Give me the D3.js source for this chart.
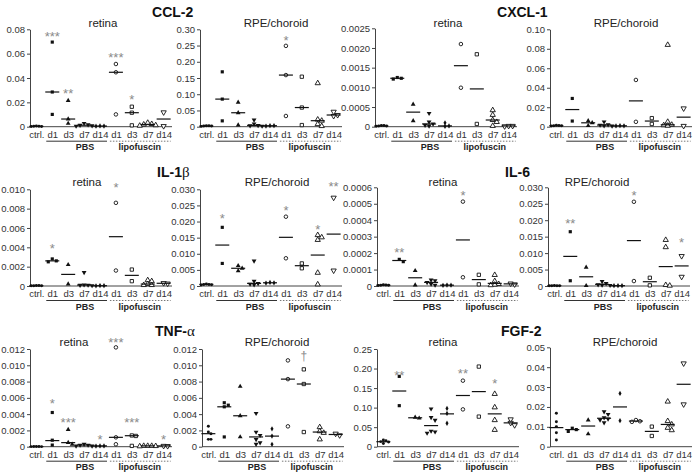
<!DOCTYPE html>
<html><head><meta charset="utf-8">
<script src="https://cdn.jsdelivr.net/npm/d3@7"></script>
<style>
body{margin:0;background:#fff;}
svg{display:block;font-family:"Liberation Sans",Arial,sans-serif;}
</style></head><body>
<svg id="chart" width="695" height="475"></svg>
<script>
// ---------- categories / labels ----------
const categories = ["ctrl.","d1","d3","d7","d14","d1","d3","d7","d14"];
const groupNames = ["PBS","lipofuscin"];
const cytokines = ["CCL-2","CXCL-1","IL-1β","IL-6","TNF-α","FGF-2"];
const tissues = ["retina","RPE/choroid"];
const markerKinds = ["ctrl","square","triangle","triangleDown","diamond","openCircle","openSquare","openTriangle","openTriangleDown"];

// ---------- CCL-2 ----------
const ccl2RetinaPoints = [[0.0004,0.0002,0.0003,0.0005,0.0002],[0.0695,0.0285,0.0101],[0.0214,0.0063,0.0027],[0.0028,0.0016,0.0012,0.0008,0.0005],[0.0006,0.0004,0.0005],[0.0515,0.0447,0.0101],[0.0164,0.0115,0.0011],[0.0032,0.0022,0.0018,0.0012,0.0008],[0.0118,0.0005]];
const ccl2RetinaMedians = [0.0003,0.0285,0.0063,0.0012,0.0005,0.0447,0.0115,0.0018,0.0063];
const ccl2RetinaTicks = [0,0.02,0.04,0.06,0.08];
const ccl2RetinaSig = ["","***","**","","","***","*","",""];
const ccl2RetinaSigAt = [null,0.0767,0.0296,null,null,0.0595,0.0247,null,null];

const ccl2RpePoints = [[0.003,0.002,0.001,0.002,0.003],[0.169,0.085,0.018],[0.075,0.043,0.005],[0.021,0.009,0.004,0.003,0.002],[0.003,0.002,0.003],[0.249,0.159,0.033],[0.154,0.059,0.005],[0.134,0.022,0.0185,0.008,0.002],[0.046,0.036,0.033]];
const ccl2RpeMedians = [0.002,0.085,0.043,0.004,0.003,0.159,0.059,0.0185,0.036];
const ccl2RpeTicks = [0,0.05,0.10,0.15,0.20,0.25,0.30];
const ccl2RpeSig = ["","","","","","*","","",""];
const ccl2RpeSigAt = [null,null,null,null,null,0.275,null,null,null];

// ---------- CXCL-1 ----------
const cxcl1RetinaPoints = [[0.00003,0.00002,0.00001,0.00002,0.00003],[0.00125,0.00123,0.00121],[0.00057,0.00015],[0.00034,0.00012,0.00007,0.00004,0.00002],[0.0001,0.00002,0.00001],[0.0021,0.00099],[0.00184,0.00007],[0.00042,0.0003,0.00017,0.00012,0.00002],[0.00002,0.00001,0.00002]];
const cxcl1RetinaMedians = [0.00002,0.00123,0.00037,0.00007,0.00002,0.00155,0.00096,0.00017,0.00002];
const cxcl1RetinaTicks = [0,0.0005,0.0010,0.0015,0.0020,0.0025];
const cxcl1RetinaSig = ["","","","","","","","",""];
const cxcl1RetinaSigAt = [null,null,null,null,null,null,null,null,null];

const cxcl1RpePoints = [[0.0015,0.001,0.0012,0.0008,0.001],[0.029,0.0058],[0.006,0.004,0.001],[0.005,0.002,0.0017,0.001,0.0008],[0.001,0.0008,0.0009],[0.048,0.005],[0.0088,0.0028],[0.084,0.005,0.002,0.0015,0.001],[0.0188,0.0008]];
const cxcl1RpeMedians = [0.001,0.0176,0.004,0.0017,0.0009,0.0265,0.0058,0.002,0.0098];
const cxcl1RpeTicks = [0,0.02,0.04,0.06,0.08,0.10];
const cxcl1RpeSig = ["","","","","","","","",""];
const cxcl1RpeSigAt = [null,null,null,null,null,null,null,null,null];

// ---------- IL-1β ----------
const il1bRetinaPoints = [[0.00004,0.00003,0.00002,0.00003,0.00004],[0.0028,0.0026,0.0025],[0.0022,0.0002],[0.0014,0.00012,0.0001,0.00008,0.00005],[0.00004,0.00003,0.00002],[0.0086,0.0016],[0.0017,0.0005],[0.0006,0.0005,0.0002,0.0001,0.0001],[0.0003,0.00025]];
const il1bRetinaMedians = [0.00003,0.0026,0.0012,0.0001,0.00003,0.0051,0.0011,0.0002,0.00028];
const il1bRetinaTicks = [0,0.002,0.004,0.006,0.008,0.010];
const il1bRetinaSig = ["","*","","","","*","","",""];
const il1bRetinaSigAt = [null,0.00417,null,null,null,0.0105,null,null,null];

const il1bRpePoints = [[0.0006,0.0005,0.0004,0.0005,0.0003],[0.0182,0.007],[0.0063,0.0055,0.0047],[0.0078,0.0015,0.0008,0.0006,0.0004],[0.001,0.0009,0.0011],[0.0215,0.0086],[0.007,0.0055],[0.0158,0.0151,0.0143,0.0041,0.0005],[0.0274,0.0048]];
const il1bRpeMedians = [0.0005,0.0127,0.0055,0.0008,0.001,0.0151,0.0063,0.0096,0.0161];
const il1bRpeTicks = [0,0.005,0.010,0.015,0.020,0.025,0.030];
const il1bRpeSig = ["","*","","","","*","","*","**"];
const il1bRpeSigAt = [null,0.0218,null,null,null,0.0244,null,0.0186,0.0319];

// ---------- IL-6 ----------
const il6RetinaPoints = [[0.000006,0.000004,0.000005,0.000007,0.000003],[0.000162,0.000148],[0.000093,0.000006],[0.000037,0.000033,0.000022,0.000012,0.000006],[0.000005,0.000004,0.000006],[0.000513,0.000053],[0.000068,0.00001],[0.000067,0.00003,0.000012,0.000008,0.000005],[0.000015,0.00001]];
const il6RetinaMedians = [0.000005,0.000155,0.00005,0.000022,0.000005,0.00028,0.000039,0.000016,0.000013];
const il6RetinaTicks = [0,0.0001,0.0002,0.0003,0.0004,0.0005,0.0006];
const il6RetinaSig = ["","**","","","","*","","",""];
const il6RetinaSigAt = [null,0.000219,null,null,null,0.000568,null,null,null];

const il6RpePoints = [[0.0001,0.00015,0.0001,0.00005,0.0001],[0.0165,0.0016],[0.0057,0.0001],[0.0014,0.0008,0.0004,0.0003,0.0002],[0.0001,0.0001,0.0001],[0.0256,0.0015],[0.0025,0.0002],[0.014,0.0118,0.0003,0.0001],[0.0091,0.0028]];
const il6RpeMedians = [0.0001,0.009,0.0028,0.0005,0.0001,0.0138,0.0013,0.0059,0.0061];
const il6RpeTicks = [0,0.005,0.010,0.015,0.020,0.025,0.030];
const il6RpeSig = ["","**","","","","*","","","*"];
const il6RpeSigAt = [null,0.0199,null,null,null,0.0284,null,null,0.014];

// ---------- TNF-α ----------
const tnfRetinaPoints = [[0.00002,0.00001,0.00002,0.00001,0.00002],[0.0042,0.0008,0.0002],[0.0021,0.0005,0.0003],[0.0003,0.0002,0.0001,0.0002,0.0001],[0.0001,0.00008,0.0001],[0.0122,0.00115,0.0003],[0.00138,0.00132,0.0001],[0.0001,0.0001,0.00008,0.0001,0.00005],[0.0001,0.00008]];
const tnfRetinaMedians = [0.00001,0.00075,0.0005,0.0002,0.0001,0.00115,0.00135,0.0001,0.0001];
const tnfRetinaTicks = [0,0.002,0.004,0.006,0.008,0.010,0.012];
const tnfRetinaSig = ["","*","***","","*","***","***","","*"];
const tnfRetinaSigAt = [null,0.00573,0.00336,null,0.00131,0.0132,0.00336,null,0.00131];

const tnfRpePoints = [[0.0025,0.0018,0.0016,0.0009,0.0009],[0.0054,0.0051,0.0049,0.0012],[0.0074,0.0038,0.0012],[0.0041,0.0018,0.0014,0.0009,0.0005,0.0003],[0.0022,0.0013,0.0003],[0.0106,0.0083,0.0025],[0.0095,0.0077,0.0018],[0.0024,0.0019,0.0017,0.0009],[0.0016,0.0014]];
const tnfRpeMedians = [0.0016,0.0049,0.0038,0.0012,0.0013,0.0083,0.0077,0.0018,0.0015];
const tnfRpeTicks = [0,0.002,0.004,0.006,0.008,0.010,0.012];
const tnfRpeSig = ["","","","","","","†","",""];
const tnfRpeSigAt = [null,null,null,null,null,null,0.0111,null,null];

// ---------- FGF-2 ----------
const fgf2RetinaPoints = [[0.017,0.015,0.013,0.012,0.008],[0.18,0.105],[0.075,0.073],[0.097,0.075,0.068,0.040,0.038,0.035],[0.098,0.085,0.06],[0.169,0.0955],[0.205,0.077],[0.135,0.1007,0.068,0.043],[0.070,0.061,0.055]];
const fgf2RetinaMedians = [0.0128,0.1425,0.074,0.054,0.084,0.131,0.141,0.084,0.061];
const fgf2RetinaTicks = [0,0.05,0.10,0.15,0.20,0.25];
const fgf2RetinaSig = ["","**","","","","**","","*",""];
const fgf2RetinaSigAt = [null,0.191,null,null,null,0.194,null,0.169,null];

const fgf2RpePoints = [[0.0168,0.0126,0.0101,0.007,0.0034],[0.0093,0.0086,0.0077],[0.0134,0.0064],[0.0176,0.0163,0.0146,0.014,0.0135,0.0121],[0.0268,0.0131],[0.0134,0.0128,0.0125],[0.0101,0.0054],[0.0227,0.0129,0.0112,0.0095,0.0083],[0.0419,0.0213]];
const fgf2RpeMedians = [0.0096,0.0086,0.0104,0.0143,0.02,0.0129,0.0077,0.0112,0.0314];
const fgf2RpeTicks = [0,0.01,0.02,0.03,0.04,0.05];
const fgf2RpeSig = ["","","","","","","","",""];
const fgf2RpeSigAt = [null,null,null,null,null,null,null,null,null];

const tickDecimals = [2,2,4,2,3,3,4,3,3,3,2,2];

// ---------- panel table built from the arrays ----------
const panels = [
  [ccl2RetinaPoints,ccl2RetinaMedians,ccl2RetinaTicks,ccl2RetinaSig,ccl2RetinaSigAt],
  [ccl2RpePoints,ccl2RpeMedians,ccl2RpeTicks,ccl2RpeSig,ccl2RpeSigAt],
  [cxcl1RetinaPoints,cxcl1RetinaMedians,cxcl1RetinaTicks,cxcl1RetinaSig,cxcl1RetinaSigAt],
  [cxcl1RpePoints,cxcl1RpeMedians,cxcl1RpeTicks,cxcl1RpeSig,cxcl1RpeSigAt],
  [il1bRetinaPoints,il1bRetinaMedians,il1bRetinaTicks,il1bRetinaSig,il1bRetinaSigAt],
  [il1bRpePoints,il1bRpeMedians,il1bRpeTicks,il1bRpeSig,il1bRpeSigAt],
  [il6RetinaPoints,il6RetinaMedians,il6RetinaTicks,il6RetinaSig,il6RetinaSigAt],
  [il6RpePoints,il6RpeMedians,il6RpeTicks,il6RpeSig,il6RpeSigAt],
  [tnfRetinaPoints,tnfRetinaMedians,tnfRetinaTicks,tnfRetinaSig,tnfRetinaSigAt],
  [tnfRpePoints,tnfRpeMedians,tnfRpeTicks,tnfRpeSig,tnfRpeSigAt],
  [fgf2RetinaPoints,fgf2RetinaMedians,fgf2RetinaTicks,fgf2RetinaSig,fgf2RetinaSigAt],
  [fgf2RpePoints,fgf2RpeMedians,fgf2RpeTicks,fgf2RpeSig,fgf2RpeSigAt]
].map((p,i)=>({points:p[0],medians:p[1],ticks:p[2],sig:p[3],sigAt:p[4],dec:tickDecimals[i]}));

// ---------- layout (positions / styles) ----------
const layout = {
  axisX: [30,200,375,550,30,200,377,548,30,202,377,550],
  topY: [29.3,29.3,28.3,29.3,189.3,189.3,187.3,187.3,349,349,349,347.3],
  zeroY: [126.7,286,446.7],
  subX: [103,276,448,626,87,277,443,597,74,277,443,625],
  subY: [27,186,346],
  titleX: [152,497,157,505,155,501],
  titleY: [17,17,177,177,336,336]
};
const TEXT = "#333", AXIS = "#444", SIG = "#8a8a8a";

const svg = d3.select("#chart");

// titles
cytokines.forEach((t,i)=>{
  const tx = svg.append("text").attr("x",layout.titleX[i]).attr("y",layout.titleY[i])
    .attr("font-size",14).attr("font-weight","bold").attr("fill","#111");
  for (const ch of t) {
    if (/[α-ω]/.test(ch)) tx.append("tspan").attr("font-family","'Liberation Serif','DejaVu Serif',serif").attr("font-weight","normal").attr("font-size",15).text(ch);
    else tx.append("tspan").text(ch);
  }
});

function markerPath(kind){
  const S = d3.symbol();
  switch(kind){
    case "ctrl": return S.type(d3.symbolCircle).size(7)();
    case "square": return S.type(d3.symbolSquare).size(10)();
    case "triangle": case "triangleDown": return S.type(d3.symbolTriangle).size(10)();
    case "diamond": return S.type(d3.symbolDiamond).size(8)();
    case "openCircle": return S.type(d3.symbolCircle).size(10)();
    case "openSquare": return S.type(d3.symbolSquare).size(11)();
    case "openTriangle": case "openTriangleDown": return S.type(d3.symbolTriangle).size(12)();
  }
}

function dodge(vals, y, step){
  const order = vals.map(v=>({v, py:y(v)})).sort((a,b)=>a.py-b.py);
  const placed = [];
  order.forEach(p=>{
    let off = 0;
    for (let t=0;t<20;t++){
      off = t===0 ? 0 : (t%2===1 ? Math.ceil(t/2)*step : -Math.ceil(t/2)*step);
      if (!placed.some(q=>Math.abs(q.py-p.py)<3.5 && Math.abs(q.dx-off)<step-0.01)) break;
    }
    p.dx = off; placed.push(p);
  });
  return order;
}

panels.forEach((P,i)=>{
  const row = Math.floor(i/4);
  const ax = layout.axisX[i], zero = layout.zeroY[row], top = layout.topY[i];
  const g = svg.append("g");
  const x = d3.scalePoint().domain(d3.range(categories.length)).range([ax, ax+140]).padding(0.4);
  const y = d3.scaleLinear().domain([0, d3.max(P.ticks)]).range([zero, top]);

  // y axis
  const ya = g.append("g").attr("transform",`translate(${ax},0)`)
    .call(d3.axisLeft(y).tickValues(P.ticks).tickSize(3).tickSizeOuter(0).tickPadding(2)
      .tickFormat(v => v===0 ? "0" : v.toFixed(P.dec)));
  ya.attr("font-size",9.5).attr("font-family",null);
  ya.selectAll("path,line").attr("stroke",AXIS);
  ya.selectAll("text").attr("fill",TEXT);

  // x axis
  const xa = g.append("g").attr("transform",`translate(0,${zero})`)
    .call(d3.axisBottom(x).tickSize(0).tickSizeOuter(0).tickPadding(4.6).tickFormat(k=>categories[k]));
  xa.attr("font-size",9.5).attr("font-family",null);
  xa.select(".domain").attr("stroke",AXIS).attr("d",`M${ax},0H${ax+142}`);
  xa.selectAll("text").attr("fill",TEXT);

  // group underlines and labels
  const uy = zero + 14.5;
  g.append("line").attr("x1",x(1)-6).attr("x2",x(4)+7).attr("y1",uy).attr("y2",uy)
    .attr("stroke","#333").attr("stroke-width",1);
  g.append("line").attr("x1",x(5)-6).attr("x2",x(8)+7).attr("y1",uy).attr("y2",uy)
    .attr("stroke","#777").attr("stroke-width",1).attr("stroke-dasharray","1.5,1.5");
  g.append("text").attr("x",x(3)+1).attr("y",zero+23.5).attr("text-anchor","middle")
    .attr("font-size",9).attr("font-weight","bold").attr("fill","#222").text(groupNames[0]);
  g.append("text").attr("x",(x(6)+x(7))/2).attr("y",zero+23.5).attr("text-anchor","middle")
    .attr("font-size",9).attr("font-weight","bold").attr("fill","#222").text(groupNames[1]);

  // subtitle
  svg.append("text").attr("x",layout.subX[i]).attr("y",layout.subY[row]).attr("text-anchor","middle")
    .attr("font-size",11.5).attr("fill","#222").text(tissues[i%2]);

  // points
  P.points.forEach((vals,k)=>{
    const kind = markerKinds[k];
    const open = kind.startsWith("open");
    const step = kind==="ctrl" ? 2.6 : 4;
    const placed = dodge(vals, y, step);
    const d = markerPath(kind);
    const rot = kind.endsWith("Down") ? 180 : 0;
    g.append("g").selectAll("path").data(placed).join("path")
      .attr("d", d)
      .attr("transform", p=>`translate(${x(k)+p.dx},${p.py}) rotate(${rot})`)
      .attr("fill", open ? "#fff" : "#111")
      .attr("stroke", open ? "#111" : "none")
      .attr("stroke-width", open ? 0.9 : 0);
  });

  // median lines
  g.append("g").selectAll("line").data(P.medians).join("line")
    .attr("x1",(m,k)=>x(k)-7).attr("x2",(m,k)=>x(k)+7)
    .attr("y1",m=>y(m)).attr("y2",m=>y(m))
    .attr("stroke","#111").attr("stroke-width",1.2);

  // significance labels
  P.sig.forEach((s,k)=>{
    if (!s || P.sigAt[k]==null) return;
    const dagger = s==="†";
    g.append("text").attr("x",x(k)).attr("y",y(P.sigAt[k]) + (dagger ? 4 : 7.5))
      .attr("text-anchor","middle").attr("font-size",dagger?12:13).attr("fill",SIG).text(s);
  });
});
</script></body></html>
